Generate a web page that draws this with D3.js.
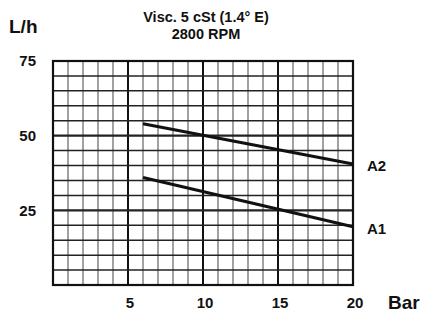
<!DOCTYPE html>
<html>
<head>
<meta charset="utf-8">
<script src="https://cdn.jsdelivr.net/npm/d3@7"></script>
<style>
  body { margin: 0; background: #fff; }
  svg { display: block; font-family: "Liberation Sans", Arial, sans-serif; font-weight: bold; }
</style>
</head>
<body>
<div id="chart"></div>
<script>
// data
const pressure = [6, 20];          // Bar
const flowA2 = [54, 40.5];         // L/h
const flowA1 = [36, 19.5];
const seriesNames = ["A2", "A1"];
const xTicks = [5, 10, 15, 20];
const yTicks = [25, 50, 75];

// chart dimensions
const W = 423, H = 315;
const margin = {top: 61, right: 70, bottom: 30, left: 53};
const width = W - margin.left - margin.right;
const height = H - margin.top - margin.bottom;

const svg = d3.select("#chart").append("svg")
  .attr("width", W)
  .attr("height", H);

const g = svg.append("g")
  .attr("transform", "translate(" + margin.left + "," + margin.top + ")");

// scales
const x = d3.scaleLinear().domain([0, 20]).range([0, width]);
const y = d3.scaleLinear().domain([0, 75]).range([height, 0]);

// vertical grid, one line per bar
g.selectAll("line.vgrid")
  .data(d3.range(1, 20))
  .enter().append("line")
  .attr("class", "vgrid")
  .attr("x1", d => x(d)).attr("x2", d => x(d))
  .attr("y1", 0).attr("y2", height)
  .style("stroke", d => d % 5 === 0 ? "#111" : "#555")
  .style("stroke-width", d => d % 5 === 0 ? 2 : 1.1);

// horizontal grid, every 5 L/h
g.selectAll("line.hgrid")
  .data(d3.range(5, 75, 5))
  .enter().append("line")
  .attr("class", "hgrid")
  .attr("x1", 0).attr("x2", width)
  .attr("y1", d => y(d)).attr("y2", d => y(d))
  .style("stroke", "#222")
  .style("stroke-width", d => d % 25 === 0 ? 2.2 : 1.5);

// frame
g.append("rect")
  .attr("x", 0).attr("y", 0)
  .attr("width", width).attr("height", height)
  .style("fill", "none")
  .style("stroke", "#111")
  .style("stroke-width", 2.2);

// axes (labels only)
g.append("g")
  .attr("transform", "translate(0," + height + ")")
  .call(d3.axisBottom(x).tickValues(xTicks).tickSize(0).tickPadding(12))
  .call(a => a.select(".domain").remove())
  .selectAll("text")
  .attr("dx", "1.5px")
  .style("font-size", "15px")
  .style("font-family", "inherit")
  .style("fill", "#111");

g.append("g")
  .call(d3.axisLeft(y).tickValues(yTicks).tickSize(0).tickPadding(17))
  .call(a => a.select(".domain").remove())
  .selectAll("text")
  .style("font-size", "15px")
  .style("font-family", "inherit")
  .style("fill", "#111");

// curves
const line = d3.line()
  .x(d => x(d[0]))
  .y(d => y(d[1]));

const curves = [flowA2, flowA1].map(vals => pressure.map((p, i) => [p, vals[i]]));

g.selectAll(".curve")
  .data(curves)
  .enter().append("path")
  .attr("class", "curve")
  .attr("d", line)
  .style("fill", "none")
  .style("stroke", "#111")
  .style("stroke-width", 3.2);

// series labels
g.selectAll(".slabel")
  .data(curves)
  .enter().append("text")
  .attr("class", "slabel")
  .attr("x", d => x(d[d.length - 1][0]) + 14)
  .attr("y", d => y(d[d.length - 1][1]) + 7)
  .style("font-size", "15px")
  .style("fill", "#111")
  .text((d, i) => seriesNames[i]);

// axis titles
svg.append("text")
  .attr("x", 9).attr("y", 33)
  .style("font-size", "19px")
  .style("fill", "#111")
  .text("L/h");

svg.append("text")
  .attr("x", 388).attr("y", 309)
  .style("font-size", "19px")
  .style("fill", "#111")
  .text("Bar");

// chart title
svg.append("text")
  .attr("x", 206).attr("y", 22)
  .style("text-anchor", "middle")
  .style("font-size", "14.5px")
  .style("fill", "#111")
  .text("Visc. 5 cSt (1.4° E)");

svg.append("text")
  .attr("x", 206).attr("y", 39)
  .style("text-anchor", "middle")
  .style("font-size", "14.5px")
  .style("fill", "#111")
  .text("2800 RPM");
</script>
</body>
</html>
